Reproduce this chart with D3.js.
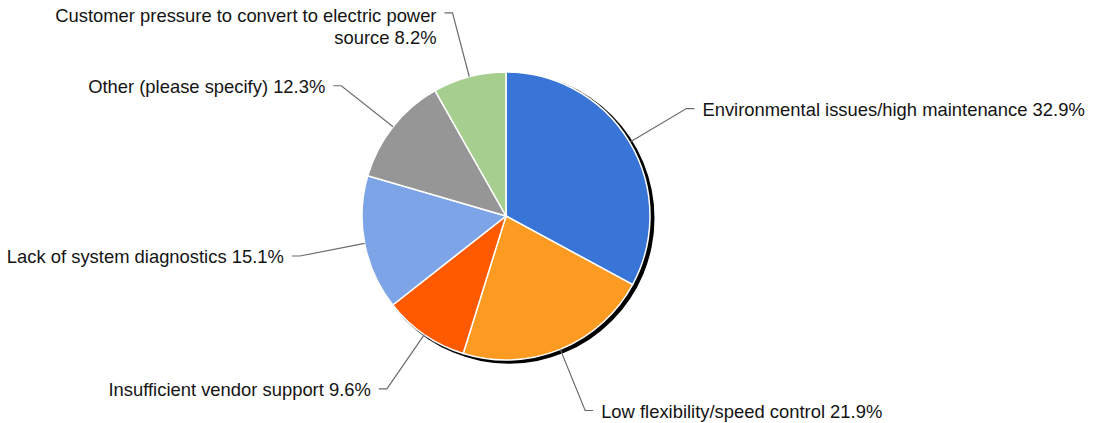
<!DOCTYPE html>
<meta charset="utf-8">
<style>
body { margin: 0; background: #fff; }
text { font: 18.4px "Liberation Sans", Arial, sans-serif; fill: #141414; }
.leader { stroke: #6b6b6b; stroke-width: 1.2; fill: none; }
</style>
<body>
<script src="https://cdn.jsdelivr.net/npm/d3@7"></script>
<script>
var categories = [
  "Environmental issues/high maintenance",
  "Low flexibility/speed control",
  "Insufficient vendor support",
  "Lack of system diagnostics",
  "Other (please specify)",
  "Customer pressure to convert to electric power source"
];
var values = [32.9, 21.9, 9.6, 15.1, 12.3, 8.2];
var colors = ["#3875d7", "#fd9a21", "#ff5a00", "#7ea4e8", "#969696", "#a6cf8f"];
// long label gets wrapped in two lines
var wrapped = { 5: ["Customer pressure to convert to electric power", "source 8.2%"] };

var width = 1099, height = 423,
    cx = 506, cy = 216, radius = 144, elbowR = 210;

var svg = d3.select("body").append("svg")
  .attr("width", width)
  .attr("height", height);

var g = svg.append("g").attr("transform", "translate(" + cx + "," + cy + ")");

var pie = d3.pie().sort(null).value(function(d) { return d; });
var arcs = pie(values);
var arc = d3.arc().innerRadius(0).outerRadius(radius);

// shadow
g.append("circle")
  .attr("cx", 3).attr("cy", 2.2)
  .attr("r", radius + 1.5)
  .attr("fill", "#000");

g.selectAll("path.slice")
  .data(arcs)
  .enter().append("path")
  .attr("class", "slice")
  .attr("d", arc)
  .attr("fill", function(d, i) { return colors[i]; })
  .attr("stroke", "#fff")
  .attr("stroke-width", 1.5);

function pt(a, r) { return [Math.sin(a) * r, -Math.cos(a) * r]; }

arcs.forEach(function(d, i) {
  var mid = (d.startAngle + d.endAngle) / 2;
  var p0 = pt(mid, radius), p1 = pt(mid, elbowR);
  var right = p1[0] > 0;
  var p2 = [p1[0] + (right ? 8 : -8), p1[1]];
  g.append("path").attr("class", "leader")
    .attr("d", d3.line()([p0, p1, p2]));

  var tx = p2[0] + (right ? 8 : -8);
  var t = g.append("text")
    .attr("text-anchor", right ? "start" : "end");
  if (wrapped[i]) {
    wrapped[i].forEach(function(line, k) {
      t.append("tspan").attr("x", tx).attr("y", p1[1] + 9 + k * 22).text(line);
    });
  } else {
    t.attr("x", tx).attr("y", p1[1] + 7)
      .text(categories[i] + " " + d3.format(".1f")(values[i]) + "%");
  }
});
</script>
</body>
